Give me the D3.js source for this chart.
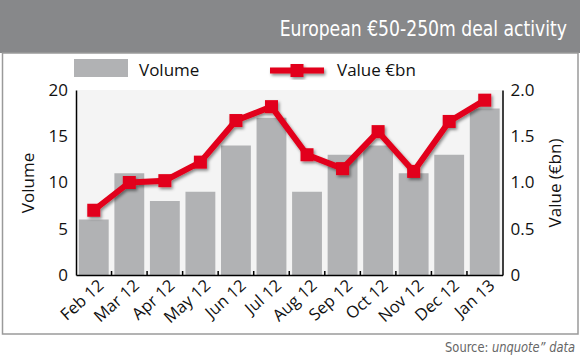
<!DOCTYPE html>
<html><head><meta charset="utf-8">
<script src="https://cdn.jsdelivr.net/npm/d3@7"></script>
<style>body{margin:0;background:#fff}svg{display:block}</style>
</head><body>
<script>
const categories = ["Feb 12","Mar 12","Apr 12","May 12","Jun 12","Jul 12","Aug 12","Sep 12","Oct 12","Nov 12","Dec 12","Jan 13"];
const volume = [6, 11, 8, 9, 14, 17, 9, 13, 14, 11, 13, 18];
const valueBn = [0.70, 1.00, 1.02, 1.22, 1.67, 1.82, 1.30, 1.15, 1.55, 1.12, 1.66, 1.89];
const leftTicks = [0, 5, 10, 15, 20];
const rightTicks = [0, 0.5, 1.0, 1.5, 2.0];

const W = 580, H = 358;
const svg = d3.select("body").append("svg").attr("width", W).attr("height", H);
const defs = svg.append("defs");
const f = defs.append("filter").attr("id","sh").attr("x","-20%").attr("y","-20%").attr("width","140%").attr("height","140%");
f.append("feDropShadow").attr("dx",1.5).attr("dy",2).attr("stdDeviation",1.5).attr("flood-color","#000").attr("flood-opacity",0.45);

const condensed = "'Liberation Sans Narrow','DejaVu Sans Condensed','Liberation Sans',sans-serif";
const sans = "'Open Sans','Noto Sans',sans-serif";

// header
svg.append("rect").attr("x",0).attr("y",0).attr("width",W).attr("height",53).attr("fill","#87888a");
const title = svg.append("g").attr("transform","translate(567,36) scale(0.87,1)");
title.append("text").attr("x",0).attr("y",0).attr("text-anchor","end")
  .attr("fill","#fff").attr("font-family",condensed).attr("font-size",22)
  .text("European €50-250m deal activity");
// border box
svg.append("rect").attr("x",2.5).attr("y",53).attr("width",575.5).attr("height",281)
  .attr("fill","none").attr("stroke","#9a9a9a").attr("stroke-width",1.5);

const m = {l:76, r:502.5, t:90, b:275};
const x = d3.scaleBand().domain(categories).range([m.l, m.r]).paddingInner(0.16).paddingOuter(0.08);
const xb = d3.scaleBand().domain(categories).range([m.l, m.r]);
const yL = d3.scaleLinear().domain([0,20]).range([m.b, m.t]);
const yR = d3.scaleLinear().domain([0,2]).range([m.b, m.t]);

// plot bg
svg.append("rect").attr("x",m.l).attr("y",m.t).attr("width",m.r-m.l).attr("height",m.b-m.t).attr("fill","#f4f4f4");

// bars
svg.append("g").selectAll("rect").data(volume).join("rect")
  .attr("x",(d,i)=>x(categories[i])).attr("width",x.bandwidth())
  .attr("y",d=>yL(d)).attr("height",d=>m.b-yL(d)).attr("fill","#b1b2b4");

// axes
const gL = svg.append("g").attr("transform",`translate(${m.l},0)`)
  .call(d3.axisLeft(yL).tickValues(leftTicks).tickSize(0).tickPadding(8).tickFormat(d3.format("d")));
const gR = svg.append("g").attr("transform",`translate(${m.r},0)`)
  .call(d3.axisRight(yR).tickValues(rightTicks).tickSize(0).tickPadding(8).tickFormat(d=>d===0?"0":d3.format(".1f")(d)));
[gL,gR].forEach(g=>{
  g.select(".domain").attr("stroke","#000").attr("stroke-width",1.5);
  g.selectAll("text").attr("font-family",sans).attr("font-size",17).attr("fill","#111");
});
const gX = svg.append("g").attr("transform",`translate(0,${m.b})`)
  .call(d3.axisBottom(xb).tickSize(0).tickPadding(0));
gX.select(".domain").attr("stroke","#000").attr("stroke-width",1.5);
gX.selectAll(".tick text")
  .attr("font-family",sans).attr("font-size",16.5).attr("fill","#111")
  .attr("text-anchor","end").attr("dy",0)
  .attr("transform","translate(11,12) rotate(-42)");
// boundary tick marks pointing up
svg.append("g").selectAll("line").data(categories.slice(1)).join("line")
  .attr("x1",d=>xb(d)).attr("x2",d=>xb(d)).attr("y1",m.b).attr("y2",m.b-4)
  .attr("stroke","#000").attr("stroke-width",1.5);

// axis titles
svg.append("text").attr("transform",`translate(34,183) rotate(-90)`).attr("text-anchor","middle")
  .attr("font-family",sans).attr("font-size",17).attr("fill","#111").text("Volume");
svg.append("text").attr("transform",`translate(561,183) rotate(-90)`).attr("text-anchor","middle")
  .attr("font-family",sans).attr("font-size",17).attr("fill","#111").text("Value (€bn)");

// line
const red = "#e2001a";
const lg = svg.append("g").attr("filter","url(#sh)");
const line = d3.line().x((d,i)=>xb(categories[i])+xb.bandwidth()/2).y(d=>yR(d));
lg.append("path").datum(valueBn).attr("d",line).attr("fill","none").attr("stroke",red).attr("stroke-width",6).attr("stroke-linejoin","round");
lg.selectAll("rect").data(valueBn).join("rect")
  .attr("x",(d,i)=>xb(categories[i])+xb.bandwidth()/2-6.5).attr("y",d=>yR(d)-6.5)
  .attr("width",13).attr("height",13).attr("fill",red);

// legend
svg.append("rect").attr("x",74).attr("y",59).attr("width",54).attr("height",18).attr("fill","#b1b2b4");
svg.append("text").attr("x",139).attr("y",76).attr("font-family",sans).attr("font-size",17).attr("fill","#111").text("Volume");
const lgl = svg.append("g").attr("filter","url(#sh)");
lgl.append("line").attr("x1",270).attr("x2",324).attr("y1",70.5).attr("y2",70.5).attr("stroke",red).attr("stroke-width",6);
lgl.append("rect").attr("x",290.5).attr("y",64).attr("width",13).attr("height",13).attr("fill",red);
svg.append("text").attr("x",337).attr("y",76).attr("font-family",sans).attr("font-size",17).attr("fill","#111").text("Value €bn");

// source
const srcG = svg.append("g").attr("transform","translate(575,352) scale(0.88,1)");
const src = srcG.append("text").attr("x",0).attr("y",0).attr("text-anchor","end")
  .attr("font-family",condensed).attr("font-size",14.5).attr("fill","#666");
src.append("tspan").text("Source: ");
src.append("tspan").attr("font-style","italic").text("unquote\u201D data");
</script>
</body></html>
